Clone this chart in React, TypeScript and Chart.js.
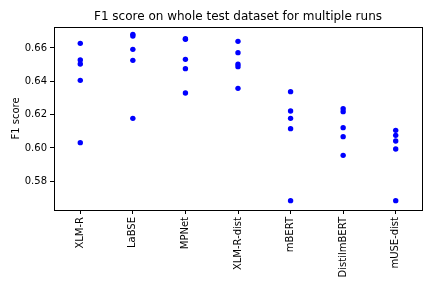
import React, { useEffect, useRef } from "react";
import { Chart, registerables } from "chart.js";

Chart.register(...registerables);

const categories = ["XLM-R", "LaBSE", "MPNet", "XLM-R-dist", "mBERT", "DistilmBERT", "mUSE-dist"];
const xlmr = [0.6628, 0.6528, 0.6504, 0.6406, 0.6032];
const labse = [0.6682, 0.6672, 0.6592, 0.6526, 0.6178];
const mpnet = [0.6656, 0.6652, 0.6532, 0.6476, 0.6330];
const xlmrDist = [0.6640, 0.6572, 0.6503, 0.6488, 0.6358];
const mbert = [0.6338, 0.6222, 0.6178, 0.6116, 0.5684];
const distilmbert = [0.6236, 0.6218, 0.6122, 0.6068, 0.5956];
const museDist = [0.6106, 0.6076, 0.6042, 0.5994, 0.5684];
const yTicks = [0.58, 0.6, 0.62, 0.64, 0.66];
const yMin = 0.5628;
const yMax = 0.6726;
const titleText = "F1 score on whole test dataset for multiple runs";

const seriesValues = [xlmr, labse, mpnet, xlmrDist, mbert, distilmbert, museDist];

const frame = {
  id: "frame",
  afterDraw(chart: any) {
    const { ctx, chartArea } = chart;
    ctx.save();
    ctx.strokeStyle = "#000";
    ctx.lineWidth = 1;
    ctx.strokeRect(
      Math.round(chartArea.left) + 0.5,
      Math.round(chartArea.top) + 0.5,
      Math.round(chartArea.right - chartArea.left),
      Math.round(chartArea.bottom - chartArea.top)
    );
    ctx.fillStyle = "#000";
    ctx.font = "12px 'DejaVu Sans', sans-serif";
    ctx.textAlign = "center";
    ctx.textBaseline = "middle";
    ctx.fillText(titleText, (chartArea.left + chartArea.right) / 2, 17);
    ctx.restore();
  },
};

export default function App() {
  const ref = useRef<HTMLCanvasElement>(null);
  useEffect(() => {
    if (!ref.current) return;
    const points: { x: string; y: number }[] = [];
    categories.forEach((c, i) => seriesValues[i].forEach((v) => points.push({ x: c, y: v })));
    const font = { family: "'DejaVu Sans', sans-serif", size: 10 };
    const chart = new Chart(ref.current, {
      type: "line",
      data: {
        labels: categories,
        datasets: [
          {
            data: points as any,
            showLine: false,
            pointRadius: 2.7,
            pointHoverRadius: 2.7,
            pointBorderWidth: 0,
            pointBackgroundColor: "#0000ff",
            borderColor: "#0000ff",
          },
        ],
      },
      options: {
        animation: false,
        responsive: false,
        devicePixelRatio: 1,
        layout: { padding: { right: 10, left: 0, top: 27, bottom: 0 } },
        plugins: {
          legend: { display: false },
          tooltip: { enabled: false },
          title: { display: false },
        },
        scales: {
          x: {
            type: "category",
            offset: true,
            grid: { display: true, drawOnChartArea: false, drawTicks: true, tickLength: 4, color: "#000" },
            border: { display: true, color: "#000" },
            ticks: { color: "#000", font, minRotation: 90, maxRotation: 90, padding: 3, autoSkip: false },
            afterFit(scale: any) {
              scale.height = 78;
            },
          },
          y: {
            type: "linear",
            min: yMin,
            max: yMax,
            grid: { display: true, drawOnChartArea: false, drawTicks: true, tickLength: 4, color: "#000" },
            border: { display: true, color: "#000" },
            ticks: {
              color: "#000",
              font,
              padding: 3,
              callback: (v: any) => Number(v).toFixed(2),
            },
            afterBuildTicks(scale: any) {
              scale.ticks = yTicks.map((v) => ({ value: v }));
            },
            title: { display: true, text: "F1 score", color: "#000", font, padding: { top: 10, bottom: 0 } },
            afterFit(scale: any) {
              scale.width = 54;
            },
          },
        },
      },
      plugins: [frame],
    });
    return () => chart.destroy();
  }, []);
  return (
    <div style={{ position: "fixed", left: 0, top: 0, width: 432, height: 288, background: "#fff" }}>
      <canvas ref={ref} width={432} height={288} style={{ width: 432, height: 288, display: "block" }} />
    </div>
  );
}
